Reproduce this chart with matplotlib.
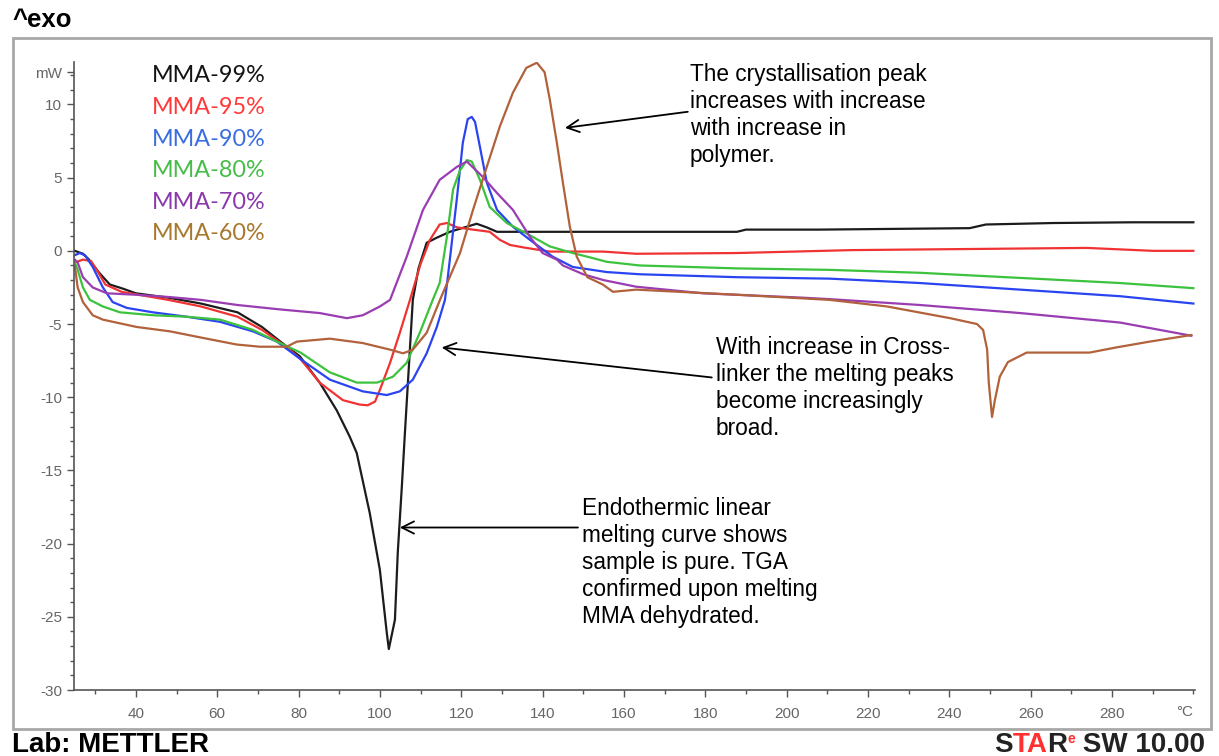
import numpy as np
import matplotlib.pyplot as plt
from matplotlib.patches import Rectangle
from matplotlib.ticker import FixedLocator

# DSC curves (temperature in degC, heat flow in mW)
t_99 = [25, 27, 28.5, 31, 33.6, 37, 40, 48, 56, 65, 71, 76, 80.3, 85.2, 89.4, 92.6, 94.3,
        97.5, 100, 101.7, 102.2, 103.7, 104.4, 105.4, 106.1, 107, 108.1, 109.5, 111.5, 114,
        117.2, 121.4, 123.8, 126.3, 128.8, 140, 187.8, 190, 208, 245, 249, 265.5, 285, 300]
mw_99 = [0, -0.2, -0.6, -1.5, -2.3, -2.6, -2.9, -3.2, -3.6, -4.2, -5.2, -6.3, -7.2, -9.0,
         -10.9, -12.7, -13.8, -17.9, -21.8, -26.1, -27.2, -25.2, -20.6, -16.1, -12.7, -8.5,
         -3.35, -1.2, 0.55, 0.9, 1.3, 1.65, 1.85, 1.6, 1.3, 1.3, 1.3, 1.45, 1.45, 1.55, 1.8,
         1.9, 1.95, 1.95]

t_95 = [25, 27, 29, 30.8, 32.5, 36.5, 48, 56, 65, 71, 77, 80.5, 85.2, 90.9, 95, 97, 98.8,
        100, 102.5, 104.9, 107.4, 110, 112.3, 114.7, 116.5, 119, 122.9, 127, 129.5, 132, 136,
        141.8, 154.8, 163, 187.8, 216, 273.8, 290, 300]
mw_95 = [-0.8, -0.6, -0.7, -1.5, -2.3, -2.8, -3.35, -3.8, -4.5, -5.4, -6.55, -7.4, -9.0,
         -10.2, -10.5, -10.55, -10.3, -9.5, -7.65, -5.6, -3.35, -0.9, 0.75, 1.8, 1.9, 1.6,
         1.45, 1.3, 0.75, 0.4, 0.2, -0.05, -0.05, -0.2, -0.15, 0.05, 0.2, 0.0, 0.0]

t_90 = [25, 26.2, 27.5, 29.4, 31.9, 34.3, 37.8, 44.2, 52.5, 60.7, 68.8, 74.7, 80.5, 87.7,
        95.8, 101.7, 104.9, 108.1, 111.5, 114, 116, 116.7, 118.9, 120.4, 121.6, 122.6, 123.4,
        124.6, 126.3, 128.8, 132.7, 137.6, 142.5, 147.4, 155.8, 163.9, 187.8, 210.6, 232.8,
        257.4, 282, 300]
mw_90 = [-0.3, -0.15, -0.3, -1.1, -2.5, -3.5, -3.9, -4.2, -4.5, -4.85, -5.5, -6.2, -7.4,
         -8.8, -9.6, -9.85, -9.6, -8.8, -7.0, -5.2, -3.35, -1.8, 3.5, 7.4, 9.0, 9.15, 8.8, 7.1,
         4.65, 2.8, 1.65, 0.6, -0.4, -1.1, -1.45, -1.6, -1.8, -1.9, -2.2, -2.65, -3.1, -3.6]

t_80 = [25, 25.7, 27, 28.7, 31.9, 36.1, 44.2, 52.5, 60.7, 68.8, 74.7, 80.5, 87.7, 94.3,
        99.3, 103.2, 106.6, 109.8, 113, 114.7, 116.5, 118, 119.7, 121.4, 122.6, 124.6, 127,
        131.2, 136, 141.8, 147.4, 152.4, 155.8, 163.9, 187.8, 210.6, 232.8, 257.4, 282, 300]
mw_80 = [-0.8, -1.3, -2.5, -3.35, -3.8, -4.2, -4.4, -4.5, -4.7, -5.4, -6.2, -6.95, -8.3,
         -9.0, -9.0, -8.6, -7.65, -5.6, -3.35, -2.2, 1.0, 4.2, 5.5, 6.2, 6.1, 4.85, 3.0, 1.9,
         1.2, 0.3, -0.15, -0.5, -0.75, -1.0, -1.2, -1.3, -1.5, -1.85, -2.2, -2.55]

t_70 = [25, 25.7, 27, 29.4, 32.9, 40, 48, 56, 65, 75.4, 85.2, 91.9, 95.8, 100, 102.5, 106.6,
        110.6, 114.7, 119, 121.4, 125.3, 128.8, 132.7, 136.9, 140, 143.5, 145, 150, 155, 163,
        179.4, 204, 210.6, 232.8, 257.4, 282, 299.5]
mw_70 = [-0.6, -0.8, -1.8, -2.5, -2.9, -3.0, -3.15, -3.35, -3.7, -4.0, -4.25, -4.6, -4.4,
         -3.8, -3.35, -0.4, 2.8, 4.85, 5.75, 6.1, 5.05, 3.95, 2.8, 0.95, -0.15, -0.6, -1.0,
         -1.6, -2.0, -2.45, -2.9, -3.2, -3.3, -3.7, -4.25, -4.9, -5.8]

t_60 = [25, 25.7, 27, 29.4, 31.9, 40.2, 48.4, 56.5, 64.8, 70.5, 77.1, 79.6, 87.7, 95.8,
        102.5, 105.7, 108.1, 111.5, 115, 119.7, 122.9, 126.3, 129.5, 132.7, 136, 138.6, 140.5,
        141.8, 143.5, 145, 146.7, 148.4, 151, 154.8, 157.3, 163, 187.8, 210.6, 224.7, 240.2,
        246.8, 248.3, 249.3, 249.7, 250.5, 251.2, 252.4, 254.4, 259, 264.7, 274.5, 281, 289.3,
        299.5]
mw_60 = [-1.0, -2.5, -3.5, -4.4, -4.7, -5.2, -5.5, -5.95, -6.4, -6.55, -6.55, -6.2, -6.0,
         -6.3, -6.75, -7.0, -6.75, -5.6, -3.2, -0.15, 2.8, 5.75, 8.5, 10.8, 12.5, 12.85, 12.2,
         10.3, 7.4, 4.65, 1.65, -0.4, -1.8, -2.3, -2.8, -2.65, -3.0, -3.35, -3.8, -4.6, -5.0,
         -5.4, -6.75, -9.0, -11.35, -10.2, -8.6, -7.6, -6.95, -6.95, -6.95, -6.6, -6.2, -5.75]

names = ["MMA-99%", "MMA-95%", "MMA-90%", "MMA-80%", "MMA-70%", "MMA-60%"]
line_colors = ["#1c1c1c", "#f03232", "#2a44f2", "#3cc23c", "#9a3db2", "#b2623a"]
label_colors = ["#141414", "#ff3a3a", "#3a6ee0", "#48bc48", "#8a38aa", "#a8782e"]

x_major = list(range(40, 281, 20))
x_minor = list(range(30, 300, 10)) + [300]
y_major = list(range(-30, 11, 5))
y_minor = list(range(-30, 13))

W, H = 1219, 756
fig = plt.figure(figsize=(W / 100, H / 100), dpi=100)
ax = fig.add_axes([74 / W, 1 - 690 / H, (1195 - 74) / W, (690 - 62) / H])

series = [(t_99, mw_99), (t_95, mw_95), (t_90, mw_90),
          (t_80, mw_80), (t_70, mw_70), (t_60, mw_60)]
for (t, mw), c in zip(series, line_colors):
    ax.plot(t, mw, color=c, lw=1.6, solid_joinstyle="round")

ax.set_xlim(24.8, 300.4)
ax.set_ylim(-30, 12.9)
for s in ["top", "right"]:
    ax.spines[s].set_visible(False)
for s in ["left", "bottom"]:
    ax.spines[s].set_color("#555555")
    ax.spines[s].set_linewidth(1.2)

ax.xaxis.set_major_locator(FixedLocator(x_major))
ax.xaxis.set_minor_locator(FixedLocator(x_minor))
ax.set_xticklabels([str(v) for v in x_major])
ax.yaxis.set_major_locator(FixedLocator(y_major + [12.2]))
ax.yaxis.set_minor_locator(FixedLocator(y_minor))
ax.set_yticklabels([str(v) for v in y_major] + ["mW"])
ax.tick_params(which="major", direction="out", length=5, width=1, color="#555555",
               labelcolor="#666666", labelsize=11)
ax.tick_params(which="minor", direction="out", length=3, width=1, color="#555555")
ax.tick_params(axis="x", pad=7)
for lab in ax.get_xticklabels() + ax.get_yticklabels():
    lab.set_family("Liberation Sans")
ax.text(297.8, -31.5, "°C", ha="center", va="center", fontsize=11, color="#666666",
        family="Liberation Sans", clip_on=False)

# series labels in the upper-left corner
for i, (name, c) in enumerate(zip(names, label_colors)):
    fig.text(152 / W, 1 - (76 + i * 31.6) / H, name, color=c, fontsize=16.8,
             family="Lato", va="center", ha="left")

# annotations
note_kw = dict(fontsize=16.3, family="Liberation Sans", color="black", ha="left", va="top",
               linespacing=1.22)
arrow_kw = dict(arrowstyle="->", color="black", lw=1.3, mutation_scale=22,
                shrinkA=0, shrinkB=0)
ax.text(176.2, 12.85, "The crystallisation peak\nincreases with increase\nwith increase in\npolymer.",
        clip_on=False, **note_kw)
ax.annotate("", xy=(145.5, 8.4), xytext=(175.7, 9.5), arrowprops=arrow_kw)
ax.text(182.6, -5.85, "With increase in Cross-\nlinker the melting peaks\nbecome increasingly\nbroad.",
        **note_kw)
ax.annotate("", xy=(115.2, -6.6), xytext=(181.6, -8.65), arrowprops=arrow_kw)
ax.text(149.7, -16.8, "Endothermic linear\nmelting curve shows\nsample is pure. TGA\nconfirmed upon melting\nMMA dehydrated.",
        **note_kw)
ax.annotate("", xy=(104.9, -18.9), xytext=(148.7, -18.9), arrowprops=arrow_kw)

# outer frame and header / footer
fig.add_artist(Rectangle((13 / W, 1 - 729 / H), 1198 / W, 691 / H, transform=fig.transFigure,
                         fill=False, ec="#a8a8a8", lw=2))
bold = dict(family="Liberation Sans", weight="bold")
fig.text(12 / W, 1 - 20 / H, "^exo", va="center", ha="left", fontsize=18.5, **bold)
fig.text(12 / W, 1 - 745 / H, "Lab: METTLER", va="center", ha="left", fontsize=20, **bold)

# software stamp, pieces laid out left to right
renderer = fig.canvas.get_renderer()
stamp = [("S", "#222222", 20, 0), ("TA", "#ff3030", 20, 0), ("R", "#222222", 20, 0),
         ("e", "#ff3030", 10, 9), (" SW 10.00", "#222222", 20, 0)]
x = 994
for txt, col, size, rise in stamp:
    t = fig.text(x / W, (H - 752 + rise) / H, txt, color=col, fontsize=size,
                 va="baseline", ha="left", **bold)
    x = t.get_window_extent(renderer).x1

fig.savefig("out.png", dpi=100)
